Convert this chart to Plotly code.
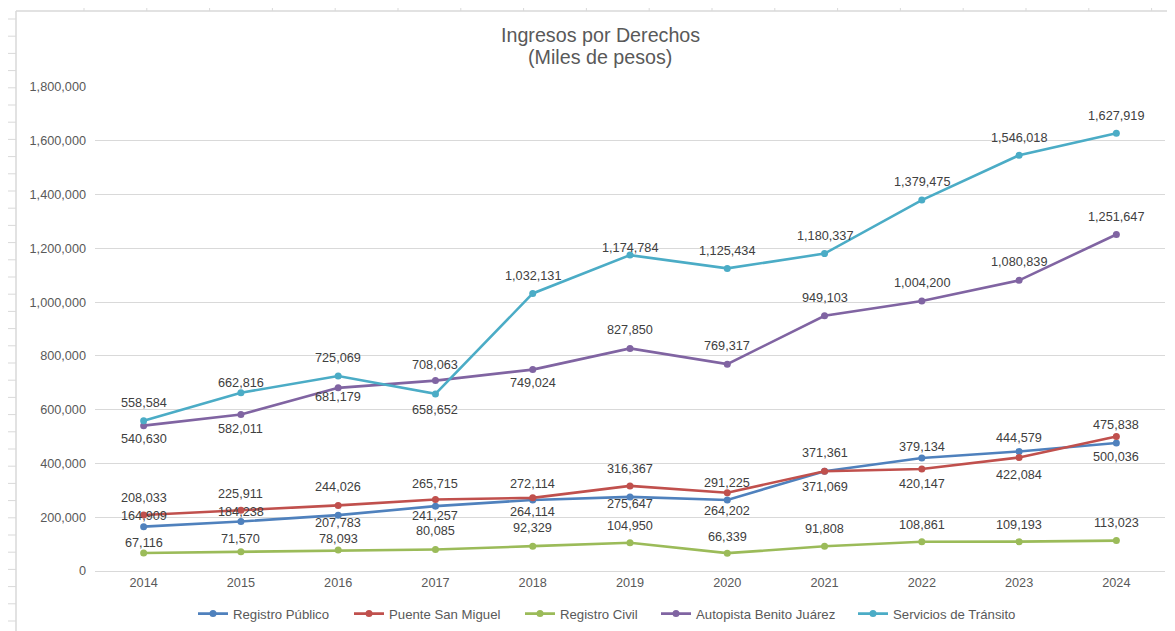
import plotly.graph_objects as go

years = [2014, 2015, 2016, 2017, 2018, 2019, 2020, 2021, 2022, 2023, 2024]

registro_publico = [164909, 184238, 207783, 241257, 264114, 275647, 264202, 371361, 420147, 444579, 475838]
puente_san_miguel = [208033, 225911, 244026, 265715, 272114, 316367, 291225, 371069, 379134, 422084, 500036]
registro_civil = [67116, 71570, 78093, 80085, 92329, 104950, 66339, 91808, 108861, 109193, 113023]
autopista_benito_juarez = [540630, 582011, 681179, 708063, 749024, 827850, 769317, 949103, 1004200, 1080839, 1251647]
servicios_transito = [558584, 662816, 725069, 658652, 1032131, 1174784, 1125434, 1180337, 1379475, 1546018, 1627919]

y_ticks = [0, 200000, 400000, 600000, 800000, 1000000, 1200000, 1400000, 1600000, 1800000]

title_line1 = "Ingresos por Derechos"
title_line2 = "(Miles de pesos)"

# label offsets in pixels (positive = below the point)
off_rp = [-11, -9, 8, 10, 12, 7, 11, -18, 26, -13, -18]
off_psm = [-17, -16, -18, -16, -14, -17, -10, 16, -22, 17, 20]
off_rc = [-10, -13, -11, -18, -18, -17, -16, -17, -17, -17, -18]
off_abj = [13, 14, 9, -16, 13, -18, -18, -18, -18, -18, -17]
off_st = [-18, -10, -18, 16, -17, -7, -17, -18, -18, -17, -17]

# legend text start positions (page px)
legend_text_x = [233, 389, 560, 696, 893]

series = [
    ("Registro Público", registro_publico, "#4F81BD", off_rp),
    ("Puente San Miguel", puente_san_miguel, "#C0504D", off_psm),
    ("Registro Civil", registro_civil, "#9BBB59", off_rc),
    ("Autopista Benito Juárez", autopista_benito_juarez, "#8064A2", off_abj),
    ("Servicios de Tránsito", servicios_transito, "#4BACC6", off_st),
]

FONT = "Liberation Sans, Arial, sans-serif"
OFF = 8  # page body margin
W, H = 1175 - OFF, 631 - OFF
L, R, T, B = 95 - OFF, 10, 87 - OFF, 60

fig = go.Figure()
annotations = []
legends = {}
for i, (name, vals, color, offs) in enumerate(series):
    lg = "legend" if i == 0 else f"legend{i + 1}"
    fig.add_trace(go.Scatter(
        x=years, y=vals, name=name, mode="lines+markers",
        line=dict(color=color, width=2.6),
        marker=dict(color=color, size=7),
        legend=lg,
    ))
    legends[lg] = dict(
        orientation="h", xref="container", yref="container",
        x=(legend_text_x[i] - 40 - OFF) / W, xanchor="left",
        y=1 - (614 - OFF) / H, yanchor="middle",
        font=dict(family=FONT, size=13.2, color="#595959"),
        bgcolor="rgba(0,0,0,0)", borderwidth=0,
    )
    for xv, yv, o in zip(years, vals, offs):
        annotations.append(dict(
            x=xv, y=yv, xref="x", yref="y", text=f"{yv:,}", showarrow=False,
            yshift=-o, font=dict(family=FONT, size=12.7, color="#404040"),
        ))

annotations.append(dict(
    text=title_line1, xref="paper", yref="paper", showarrow=False,
    x=(600 - 95) / (W - L - R), y=(H - B - (35 - OFF)) / (H - T - B),
    xanchor="center", yanchor="middle",
    font=dict(family=FONT, size=19.7, color="#595959"),
))
annotations.append(dict(
    text=title_line2, xref="paper", yref="paper", showarrow=False,
    x=(600 - 95) / (W - L - R), y=(H - B - (57 - OFF)) / (H - T - B),
    xanchor="center", yanchor="middle",
    font=dict(family=FONT, size=19.7, color="#595959"),
))


def px(xp):
    return (xp - OFF - L) / (W - L - R)


def py(yp):
    return (H - B - (yp - OFF)) / (H - T - B)


shapes = []
grid_col = "#D9D9D9"
shapes.append(dict(type="line", xref="paper", yref="paper", x0=px(16), x1=px(1185), y0=py(11), y1=py(11),
                   line=dict(color=grid_col, width=1.5)))
shapes.append(dict(type="line", xref="paper", yref="paper", x0=px(16), x1=px(16), y0=py(11), y1=py(640),
                   line=dict(color=grid_col, width=1.5)))
xx = 84.0
while xx < 1175:
    shapes.append(dict(type="line", xref="paper", yref="paper", x0=px(xx), x1=px(xx), y0=py(8), y1=py(11),
                       line=dict(color=grid_col, width=1)))
    xx += 62.8
yy = 19.0
while yy < 631:
    shapes.append(dict(type="line", xref="paper", yref="paper", x0=px(8), x1=px(16), y0=py(yy), y1=py(yy),
                       line=dict(color=grid_col, width=1)))
    yy += 17.2

fig.update_layout(
    width=W, height=H,
    margin=dict(l=L, r=R, t=T, b=B, autoexpand=False),
    paper_bgcolor="white", plot_bgcolor="white",
    font=dict(family=FONT, color="#595959"),
    xaxis=dict(range=[2013.5, 2024.5], tickvals=years, ticktext=[str(y) for y in years],
               showgrid=False, zeroline=False, showline=True, linecolor=grid_col, linewidth=1,
               ticks="", tickfont=dict(family=FONT, size=12.7, color="#595959"), fixedrange=True),
    yaxis=dict(range=[0, 1800000], tickvals=y_ticks, ticktext=[f"{v:,}" for v in y_ticks],
               showgrid=True, gridcolor=grid_col, gridwidth=1, zeroline=False, showline=False,
               ticks="", ticklabelstandoff=8,
               tickfont=dict(family=FONT, size=12.7, color="#595959"), fixedrange=True),
    annotations=annotations,
    shapes=shapes,
    showlegend=True,
    **legends,
)

fig.write_html("out.html")
